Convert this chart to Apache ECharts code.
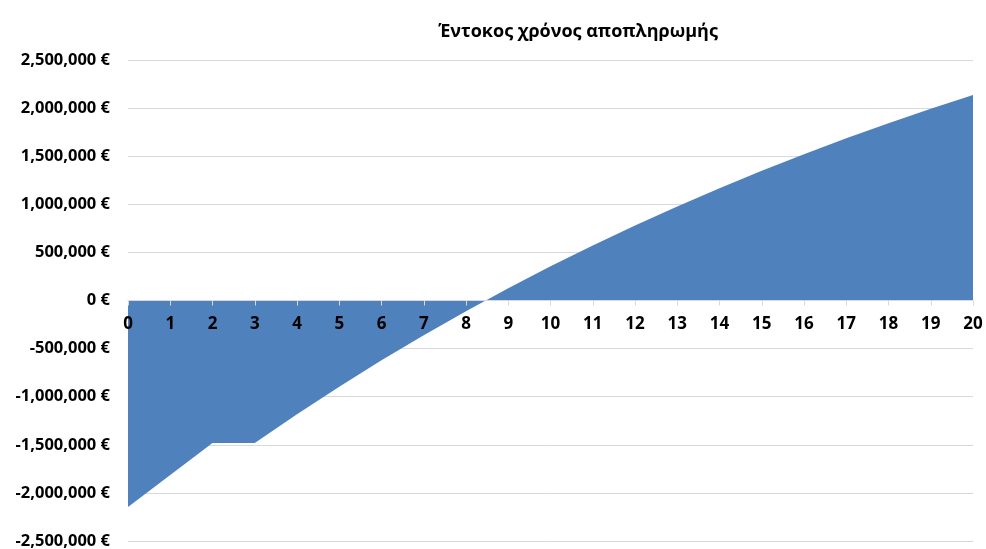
<!DOCTYPE html>
<html>
<head>
<meta charset="utf-8">
<script src="https://cdn.jsdelivr.net/npm/echarts@6/dist/echarts.min.js"></script>
<style>
html,body{margin:0;padding:0;background:#fff;}
#chart{width:986px;height:549px;}
</style>
</head>
<body>
<div id="chart"></div>
<script>
const title = "Έντοκος χρόνος αποπληρωμής";
const years = ["0","1","2","3","4","5","6","7","8","9","10","11","12","13","14","15","16","17","18","19","20"];
const cumulative = [-2146000, -1814000, -1482000, -1482000, -1182000, -896000, -622000, -361000, -111000, 127000, 355000, 572000, 780000, 978000, 1167000, 1348000, 1521000, 1686000, 1843000, 1993000, 2137000];
const yMin = -2500000, yMax = 2500000, yStep = 500000;

function fmt(v){
  const s = Math.abs(v).toString().replace(/\B(?=(\d{3})+(?!\d))/g, ",");
  return (v < 0 ? "-" : "") + s + " €";
}

const gridTop = 60, gridBottom = 8, chartH = 549;
const plotH = chartH - gridTop - gridBottom;
const zeroOffset = -plotH * (0 - yMin) / (yMax - yMin);

const chart = echarts.init(document.getElementById('chart'));
chart.setOption({
  animation: false,
  backgroundColor: '#fff',
  title: {
    text: title,
    left: 573,
    top: 18,
    textAlign: 'center',
    textStyle: {fontFamily: 'Open Sans', fontWeight: 'bold', fontSize: 18, color: '#000'}
  },
  grid: {left: 128, right: 13, top: gridTop, bottom: gridBottom, containLabel: false, outerBoundsMode: 'none'},
  xAxis: {
    type: 'category',
    data: years,
    boundaryGap: false,
    z: 10,
    offset: zeroOffset,
    axisLine: {onZero: false, lineStyle: {color: '#d9d9d9'}},
    axisTick: {show: true, alignWithLabel: true, length: 5, lineStyle: {color: '#d9d9d9'}},
    axisLabel: {margin: 15, fontFamily: 'Open Sans', fontWeight: 'bold', fontSize: 17, color: '#000', interval: 0},
    splitLine: {show: false}
  },
  yAxis: {
    type: 'value',
    min: yMin, max: yMax, interval: yStep,
    axisLine: {show: false},
    axisTick: {show: false},
    axisLabel: {margin: 18, fontFamily: 'Open Sans', fontWeight: 'bold', fontSize: 16.5, color: '#000', formatter: fmt},
    splitLine: {lineStyle: {color: '#d9d9d9', width: 1}}
  },
  series: [{
    type: 'line',
    data: cumulative,
    showSymbol: false,
    symbol: 'none',
    lineStyle: {color: '#4f81bd', width: 0},
    areaStyle: {color: '#4f81bd', opacity: 1},
    itemStyle: {color: '#4f81bd'}
  }]
});
</script>
</body>
</html>
